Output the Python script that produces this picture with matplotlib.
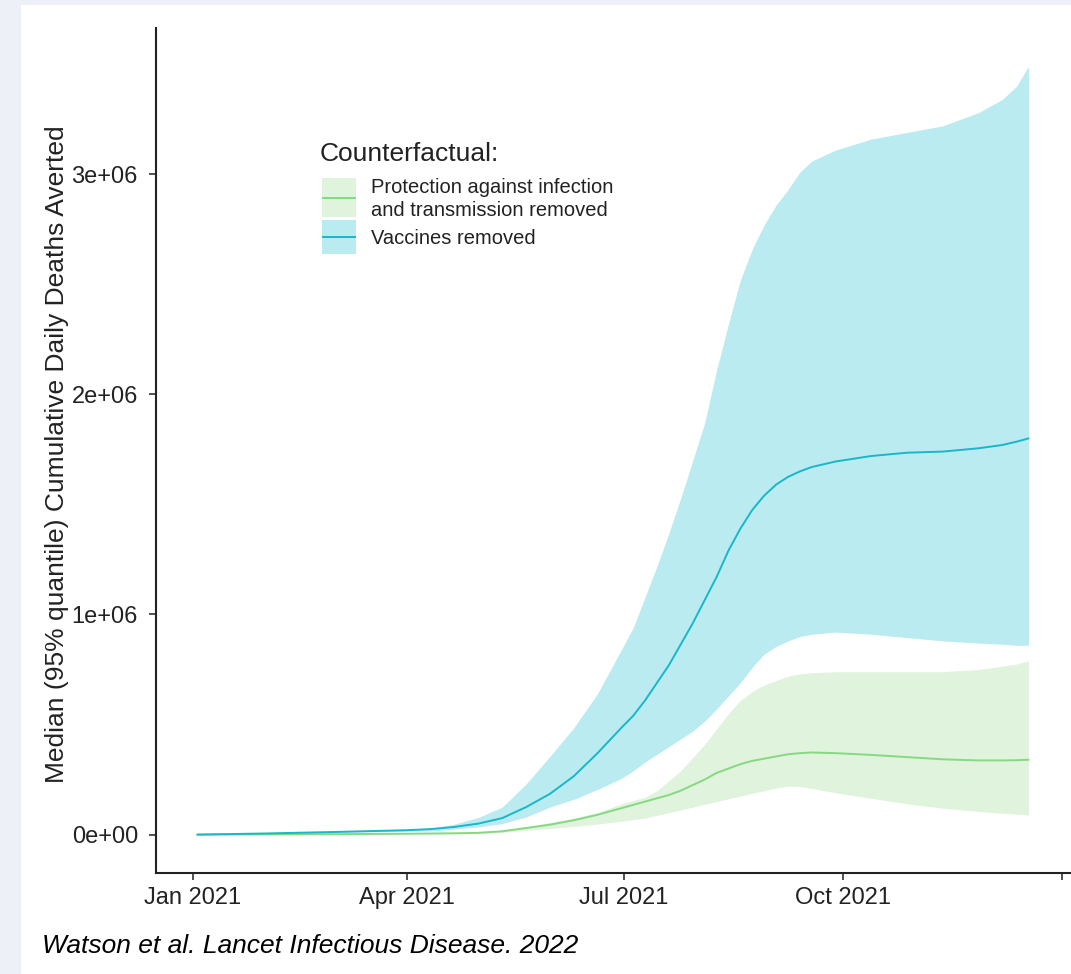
"""
Cumulative deaths averted by COVID-19 vaccination, 2021, under two counterfactuals.
"""

import numpy as np
import pandas as pd
import matplotlib
matplotlib.use("Agg")
import matplotlib.pyplot as plt
from matplotlib.patches import Rectangle
from matplotlib.lines import Line2D

plt.rcParams['font.family'] = ['Liberation Sans', 'DejaVu Sans']

W, H = 1071, 974

dates = pd.to_datetime([
    "2021-01-03", "2021-01-31", "2021-03-02", "2021-04-01", "2021-04-11",
    "2021-04-21", "2021-05-01", "2021-05-11", "2021-05-21", "2021-05-31",
    "2021-06-10", "2021-06-20", "2021-06-30", "2021-07-05", "2021-07-10",
    "2021-07-15", "2021-07-20", "2021-07-25", "2021-07-30", "2021-08-04",
    "2021-08-09", "2021-08-14", "2021-08-19", "2021-08-24", "2021-08-29",
    "2021-09-03", "2021-09-08", "2021-09-13", "2021-09-18", "2021-09-28",
    "2021-10-13", "2021-10-28", "2021-11-12", "2021-11-27", "2021-12-07",
    "2021-12-13", "2021-12-18",
])

# millions of deaths averted
vacc_med = [0, 0.005, 0.012, 0.02, 0.025, 0.035, 0.05, 0.075, 0.125, 0.185,
            0.265, 0.37, 0.485, 0.54, 0.61, 0.69, 0.77, 0.865, 0.96, 1.065,
            1.17, 1.29, 1.39, 1.475, 1.54, 1.59, 1.625, 1.65, 1.67, 1.695,
            1.72, 1.735, 1.74, 1.755, 1.77, 1.785, 1.80]
vacc_lo = [0, 0.004, 0.01, 0.015, 0.016, 0.025, 0.035, 0.05, 0.08, 0.125,
           0.16, 0.205, 0.255, 0.29, 0.33, 0.365, 0.40, 0.435, 0.47, 0.515,
           0.57, 0.63, 0.69, 0.76, 0.82, 0.855, 0.88, 0.90, 0.91, 0.92,
           0.91, 0.895, 0.88, 0.87, 0.865, 0.86, 0.86]
vacc_hi = [0, 0.005, 0.013, 0.022, 0.028, 0.048, 0.078, 0.125, 0.23, 0.355,
           0.485, 0.64, 0.84, 0.94, 1.08, 1.22, 1.37, 1.53, 1.70, 1.87,
           2.11, 2.32, 2.52, 2.66, 2.77, 2.86, 2.93, 3.01, 3.06, 3.11,
           3.16, 3.19, 3.22, 3.28, 3.34, 3.40, 3.49]

prot_med = [0, 0.001, 0.002, 0.004, 0.005, 0.006, 0.008, 0.015, 0.03, 0.045,
            0.065, 0.09, 0.12, 0.135, 0.15, 0.165, 0.18, 0.20, 0.225, 0.25,
            0.28, 0.30, 0.32, 0.335, 0.345, 0.355, 0.365, 0.37, 0.373, 0.37,
            0.362, 0.352, 0.342, 0.337, 0.337, 0.338, 0.34]
prot_lo = [0, 0.0, 0.001, 0.002, 0.003, 0.004, 0.005, 0.01, 0.02, 0.028,
           0.037, 0.048, 0.06, 0.068, 0.075, 0.087, 0.10, 0.112, 0.125, 0.138,
           0.15, 0.163, 0.175, 0.188, 0.20, 0.212, 0.22, 0.218, 0.21, 0.19,
           0.165, 0.14, 0.12, 0.105, 0.097, 0.093, 0.09]
prot_hi = [0, 0.001, 0.003, 0.006, 0.007, 0.009, 0.012, 0.02, 0.035, 0.055,
           0.075, 0.10, 0.14, 0.155, 0.17, 0.20, 0.245, 0.29, 0.35, 0.41,
           0.48, 0.55, 0.61, 0.65, 0.68, 0.70, 0.72, 0.73, 0.735, 0.74,
           0.74, 0.74, 0.74, 0.75, 0.765, 0.775, 0.79]

tick_dates = pd.to_datetime(["2021-01-01", "2021-04-01", "2021-07-01",
                             "2021-10-01", "2022-01-01"])
tick_labels = ["Jan 2021", "Apr 2021", "Jul 2021", "Oct 2021", ""]
y_ticks = [0, 1e6, 2e6, 3e6]

legend_title = "Counterfactual:"
legend_labels = ["Protection against infection\nand transmission removed",
                 "Vaccines removed"]

CYAN_LINE = '#18B7C9'
CYAN_FILL = '#BAEBF0'
GREEN_LINE = '#86D982'
GREEN_FILL = '#E0F3DC'
INK = '#222222'

def scaled(v):
    return np.asarray(v) * 1e6

def fx(px):
    return px / W

def fy(py):
    return 1 - py / H

fig = plt.figure(figsize=(W / 100, H / 100), dpi=100, facecolor='#EDF0F7')
fig.patches.append(Rectangle((fx(21), 0), 1 - fx(21), fy(5),
                             transform=fig.transFigure, facecolor='white',
                             edgecolor='none', zorder=-10))

ax = fig.add_axes([fx(156), 101 / H, 914 / W, 845 / H])
ax.set_facecolor('none')

ax.fill_between(dates, scaled(prot_lo), scaled(prot_hi), color=GREEN_FILL,
                linewidth=0, zorder=1)
ax.fill_between(dates, scaled(vacc_lo), scaled(vacc_hi), color=CYAN_FILL,
                linewidth=0, zorder=2)
ax.plot(dates, scaled(prot_med), color=GREEN_LINE, linewidth=1.4, zorder=3)
ax.plot(dates, scaled(vacc_med), color=CYAN_LINE, linewidth=1.4, zorder=4)

# ggplot-style 5% expansion on both axes
span = dates[-1] - dates[0]
ax.set_xlim(dates[0] - 0.05 * span, dates[-1] + 0.05 * span)
ymax = max(vacc_hi) * 1e6
ax.set_ylim(-0.05 * ymax, 1.05 * ymax)

ax.set_xticks(tick_dates)
ax.set_xticklabels(tick_labels)
ax.set_yticks(y_ticks)
ax.set_yticklabels(['{:.0e}'.format(v) for v in y_ticks])

for side in ['top', 'right']:
    ax.spines[side].set_visible(False)
for side in ['left', 'bottom']:
    ax.spines[side].set_color(INK)
    ax.spines[side].set_linewidth(1.5)
ax.tick_params(axis='both', colors='#333333', labelcolor=INK, labelsize=17,
               length=5, width=1.2)
ax.tick_params(axis='x', pad=5)
ax.tick_params(axis='y', pad=8)

ax.set_ylabel("Median (95% quantile) Cumulative Daily Deaths Averted",
              fontsize=19, color=INK)
ax.yaxis.set_label_coords(-0.095, 0.496)

# legend drawn as ggplot-style keys: filled box with the median line across
fig.text(fx(320), fy(161), legend_title, fontsize=19, color=INK,
         va='baseline', ha='left')
keys = [(GREEN_FILL, GREEN_LINE, 178, 217, 199),
        (CYAN_FILL, CYAN_LINE, 220, 254, 238)]
for (fill, line, top, bottom, text_y), label in zip(keys, legend_labels):
    fig.patches.append(Rectangle((fx(321.5), fy(bottom)), fx(356) - fx(321.5),
                                 fy(top) - fy(bottom), transform=fig.transFigure,
                                 facecolor=fill, edgecolor='none'))
    mid = (top + bottom) / 2
    fig.lines.append(Line2D([fx(323), fx(355)], [fy(mid), fy(mid)],
                            transform=fig.transFigure, color=line,
                            linewidth=1.4))
    fig.text(fx(371), fy(text_y), label, fontsize=14.5, color=INK,
             va='center', ha='left', linespacing=1.25)

fig.text(fx(42), fy(953), "Watson et al. Lancet Infectious Disease. 2022",
         fontsize=19, style='italic', color='black', va='baseline', ha='left')

fig.savefig('out.png', dpi=100, facecolor=fig.get_facecolor())
